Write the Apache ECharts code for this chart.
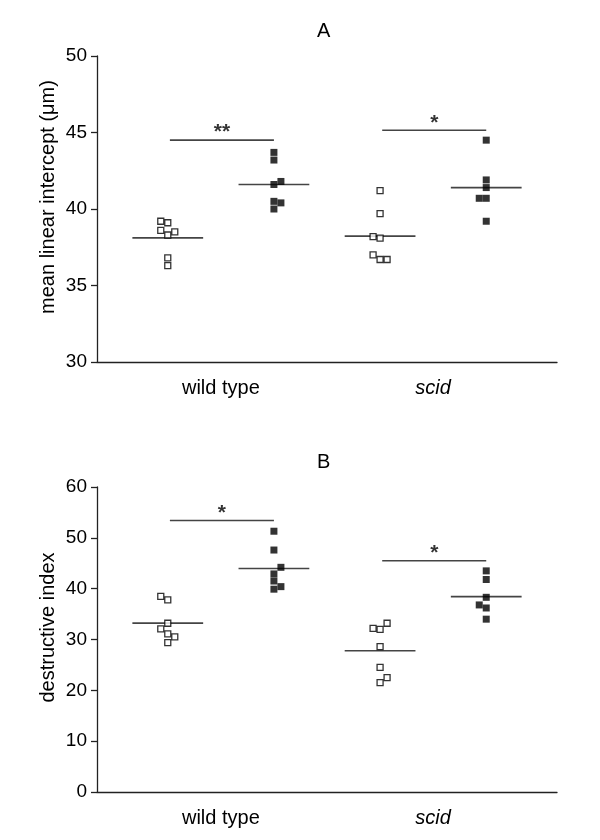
<!DOCTYPE html>
<html><head><meta charset="utf-8">
<script src="https://cdn.jsdelivr.net/npm/echarts@6/dist/echarts.min.js"></script>
<style>html,body{margin:0;padding:0;background:#fff}#c{width:600px;height:840px}</style>
</head><body><div id="c"></div>
<script>
// ---- data ----
const groupLabels = ['wild type', 'scid'];
const panelTitles = ['A', 'B'];
const yNames = ['mean linear intercept (μm)', 'destructive index'];
const yTicksA = [30, 35, 40, 45, 50];
const yTicksB = [0, 10, 20, 30, 40, 50, 60];

// Panel A: mean linear intercept
const wtA_open   = [39.2, 39.1, 38.6, 38.3, 38.5, 36.8, 36.3];
const wtA_filled = [43.7, 43.2, 41.8, 41.6, 40.5, 40.4, 40.0];
const scidA_open   = [41.2, 39.7, 38.2, 38.1, 37.0, 36.7, 36.7];
const scidA_filled = [44.5, 41.9, 41.4, 40.7, 40.7, 39.2];
// Panel B: destructive index
const wtB_open   = [38.5, 37.8, 33.2, 32.1, 31.1, 30.5, 29.4];
const wtB_filled = [51.3, 47.6, 44.2, 42.9, 41.5, 40.4, 39.9];
const scidB_open   = [33.2, 32.2, 32.0, 28.6, 24.5, 22.5, 21.5];
const scidB_filled = [43.5, 41.8, 38.3, 36.8, 36.2, 34.0];

// significance bar levels and labels
const sigA = [44.5, 45.15];
const sigB = [53.4, 45.5];
const starsA = ['**', '*'];
const starsB = ['*', '*'];

// jitter columns (-1 left, 0 centre, 1 right) for overlapping points
const jitA = [[-1,0,-1,0,1,0,0],[0,0,1,0,0,1,0],[0,0,-1,0,-1,0,1],[0,0,0,-1,0,0]];
const jitB = [[-1,0,0,-1,0,1,0],[0,0,1,0,0,1,0],[1,-1,0,0,0,1,0],[0,0,0,-1,0,0]];

// ---- build ----
const panels = [
  {groups: [wtA_open, wtA_filled, scidA_open, scidA_filled], jit: jitA, sig: sigA, stars: starsA, ticks: yTicksA},
  {groups: [wtB_open, wtB_filled, scidB_open, scidB_filled], jit: jitB, sig: sigB, stars: starsB, ticks: yTicksB}
];
const gridTops = [56, 487];
const gridH = [306, 305];
const DARK = '#222', LINE = '#444';
const FONT = 'Liberation Sans, Arial, sans-serif';

const option = {
  animation: false,
  backgroundColor: '#fff',
  title: panelTitles.map((t, i) => ({
    text: t, left: 312, top: gridTops[i] - 40,
    textStyle: {fontFamily: FONT, fontSize: 20, fontWeight: 'normal', color: '#000'}
  })),
  grid: panels.map((p, i) => ({left: 97, width: 460, top: gridTops[i], height: gridH[i]})),
  xAxis: panels.map((p, i) => ({
    type: 'value', gridIndex: i, min: 1/3, max: 14/3,
    axisLine: {show: true, lineStyle: {color: DARK, width: 1.3}},
    axisTick: {show: false}, splitLine: {show: false},
    axisLabel: {
      customValues: [1.5, 3.5], margin: 16,
      fontFamily: FONT, fontSize: 20, color: '#000',
      formatter: v => v < 2.5 ? groupLabels[0] : '{i|' + groupLabels[1] + '}',
      rich: {i: {fontStyle: 'italic', fontFamily: FONT, fontSize: 20, color: '#000'}}
    }
  })),
  yAxis: panels.map((p, i) => ({
    type: 'value', gridIndex: i,
    min: p.ticks[0], max: p.ticks[p.ticks.length - 1], interval: p.ticks[1] - p.ticks[0],
    name: yNames[i], nameLocation: 'middle', nameGap: 39, nameMoveOverlap: false,
    nameTextStyle: {fontFamily: FONT, fontSize: 20, color: '#000', padding: [0, 0, 0, 24]},
    axisLine: {show: true, lineStyle: {color: DARK, width: 1.3}},
    axisTick: {show: true, length: 6, lineStyle: {color: DARK, width: 1.3}},
    splitLine: {show: false},
    axisLabel: {margin: 10, fontFamily: FONT, fontSize: 19, color: '#000'}
  })),
  series: []
};

const mean = a => a.reduce((s, v) => s + v, 0) / a.length;

panels.forEach((p, pi) => {
  p.groups.forEach((vals, gi) => {
    const x = gi + 1;
    const open = gi % 2 === 0;
    // mean line
    option.series.push({
      type: 'line', xAxisIndex: pi, yAxisIndex: pi, silent: true, symbol: 'none', z: 2,
      data: [[x - 1/3, mean(vals)], [x + 1/3, mean(vals)]],
      lineStyle: {color: LINE, width: 1.6}
    });
    // points
    option.series.push({
      type: 'scatter', xAxisIndex: pi, yAxisIndex: pi, symbol: 'rect', z: 5,
      symbolSize: open ? 6 : 7,
      itemStyle: open ? {color: '#fff', borderColor: '#000', borderWidth: 1.3} : {color: '#000'},
      data: vals.map((v, k) => ({value: [x, v], symbolOffset: [p.jit[gi][k] * 7, 0]}))
    });
  });
  // significance bars
  [0, 1].forEach(k => {
    const x0 = 2 * k + 1.02, x1 = 2 * k + 2;
    option.series.push({
      type: 'line', xAxisIndex: pi, yAxisIndex: pi, silent: true, symbol: 'none', z: 2,
      data: [[x0, p.sig[k]], [x1, p.sig[k]]],
      lineStyle: {color: LINE, width: 1.6}
    });
    option.series.push({
      type: 'scatter', xAxisIndex: pi, yAxisIndex: pi, silent: true, symbolSize: 0, z: 6,
      data: [[(x0 + x1) / 2, p.sig[k]]],
      label: {show: true, position: 'top', distance: -3, formatter: p.stars[k],
              fontFamily: FONT, fontSize: 21, fontWeight: 'bold', color: '#000'}
    });
  });
});

const chart = echarts.init(document.getElementById('c'), null, {renderer: 'canvas'});
chart.setOption(option);
</script>
</body></html>
